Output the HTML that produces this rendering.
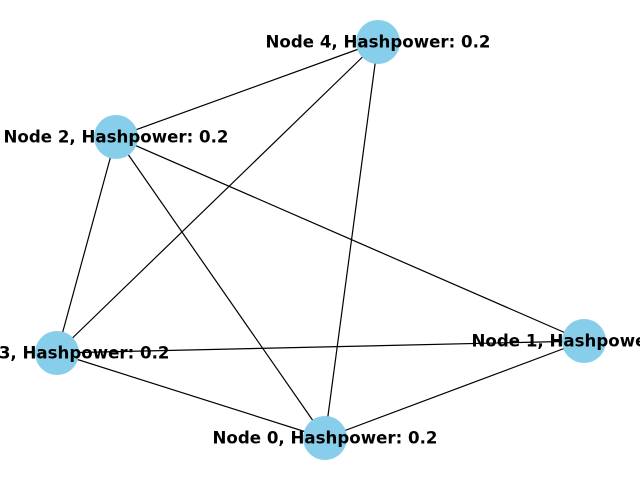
<!DOCTYPE html>
<html><head><meta charset="utf-8"><style>
html,body{margin:0;padding:0;background:#fff;}
svg{display:block;}
text{font-family:"DejaVu Sans","Liberation Sans",sans-serif;font-weight:bold;font-size:16.6px;}
</style></head><body>
<svg width="640" height="480" viewBox="0 0 640 480" xmlns="http://www.w3.org/2000/svg">
<g stroke="#000" stroke-width="1.2">
<line x1="378" y1="42" x2="116" y2="137"/>
<line x1="378" y1="42" x2="57" y2="353"/>
<line x1="378" y1="42" x2="325" y2="438"/>
<line x1="116" y1="137" x2="57" y2="353"/>
<line x1="116" y1="137" x2="325" y2="438"/>
<line x1="116" y1="137" x2="584" y2="341"/>
<line x1="57" y1="353" x2="584" y2="341"/>
<line x1="57" y1="353" x2="325" y2="438"/>
<line x1="325" y1="438" x2="584" y2="341"/>
</g>
<g fill="#87CEEB">
<circle cx="378" cy="42" r="22"/>
<circle cx="116" cy="137" r="22"/>
<circle cx="57" cy="353" r="22"/>
<circle cx="584" cy="341" r="22"/>
<circle cx="325" cy="438" r="22"/>
</g>
<g text-anchor="middle" dominant-baseline="central" fill="#000">
<text x="378" y="42" textLength="225" lengthAdjust="spacingAndGlyphs">Node 4, Hashpower: 0.2</text>
<text x="116" y="137" textLength="225" lengthAdjust="spacingAndGlyphs">Node 2, Hashpower: 0.2</text>
<text x="57" y="353" textLength="225" lengthAdjust="spacingAndGlyphs">Node 3, Hashpower: 0.2</text>
<text x="584" y="341" textLength="225" lengthAdjust="spacingAndGlyphs">Node 1, Hashpower: 0.2</text>
<text x="325" y="438" textLength="225" lengthAdjust="spacingAndGlyphs">Node 0, Hashpower: 0.2</text>
</g>
</svg>
</body></html>
